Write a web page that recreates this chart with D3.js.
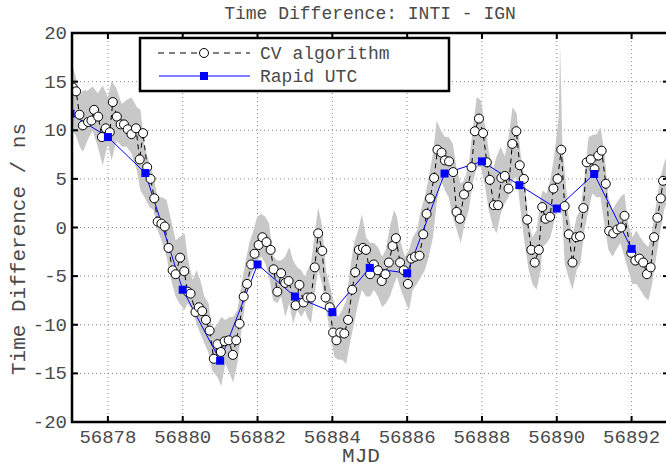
<!DOCTYPE html>
<html><head><meta charset="utf-8">
<script src="https://cdn.jsdelivr.net/npm/d3@7"></script>
<style>body{margin:0;background:#fff}svg{display:block}text{font-family:"Liberation Mono","DejaVu Sans Mono",monospace;fill:#4a4a4a}</style>
</head><body><svg id="c" width="666" height="468"></svg>
<script>
const cvMJD = [56877.06,56877.15,56877.24,56877.33,56877.47,56877.56,56877.63,56877.74,56877.84,56877.94,
56878.05,56878.13,56878.24,56878.34,56878.43,56878.53,56878.63,56878.75,56878.85,56878.94,
56879.05,56879.14,56879.24,56879.33,56879.43,56879.52,56879.62,56879.73,56879.81,56879.93,
56880.04,56880.13,56880.21,56880.34,56880.43,56880.52,56880.62,56880.72,56880.83,56880.93,
56881.02,56881.12,56881.23,56881.34,56881.43,56881.52,56881.63,56881.72,56881.83,56881.92,
56882.03,56882.13,56882.24,56882.35,56882.43,56882.53,56882.63,56882.74,56882.83,
56883.02,56883.12,56883.23,56883.33,56883.43,56883.53,56883.62,56883.73,56883.82,56883.93,
56884.02,56884.11,56884.21,56884.32,56884.42,56884.53,56884.61,56884.71,56884.82,56884.90,
56885.01,56885.11,56885.22,56885.32,56885.42,56885.51,56885.61,56885.70,56885.81,56885.91,
56886.02,56886.11,56886.21,56886.33,56886.43,56886.52,56886.61,56886.72,56886.81,56886.92,
56887.01,56887.12,56887.23,56887.32,56887.41,56887.52,56887.63,56887.72,56887.81,56887.92,
56888.03,56888.13,56888.21,56888.32,56888.43,56888.52,56888.61,56888.71,56888.81,56888.92,
56889.01,56889.12,56889.21,56889.32,56889.41,56889.52,56889.61,56889.70,56889.82,56889.91,
56890.02,56890.12,56890.21,56890.32,56890.42,56890.52,56890.62,56890.71,56890.80,56890.91,
56891.01,56891.11,56891.20,56891.31,56891.40,56891.51,56891.62,56891.72,56891.81,
56891.99,56892.10,56892.21,56892.31,56892.41,56892.51,56892.60,56892.69,56892.78,56892.84];
const cvValue = [14.4,14.0,11.6,10.5,10.85,11.0,12.1,11.4,9.3,10.2,
9.8,12.9,11.4,10.6,10.6,10.1,9.6,10.2,7.0,9.7,
6.2,5.0,3.0,0.6,0.4,0.1,-2.1,-4.4,-4.8,-3.1,
-4.5,-6.6,-6.8,-8.7,-8.2,-8.6,-9.5,-10.6,-13.5,-12.0,
-12.8,-11.7,-11.6,-13.1,-11.6,-9.9,-7.1,-5.8,-3.8,-2.7,
-1.8,-1.0,-1.5,-2.3,-4.3,-6.6,-4.7,-5.7,-5.5,
-8.0,-5.9,-7.7,-7.2,-7.2,-4.1,-0.6,-2.4,-7.2,-8.2,
-10.8,-11.6,-10.8,-10.9,-9.5,-6.4,-4.6,-2.3,-2.1,-2.3,
-4.8,-3.8,-4.4,-5.5,-4.8,-3.6,-1.9,-1.1,-3.6,-4.4,
-5.8,-3.2,-3.0,-2.9,-0.7,1.4,3.0,5.1,8.0,7.7,
6.9,6.8,5.7,1.6,0.9,3.4,4.2,6.2,9.9,11.2,
9.7,6.7,4.9,2.3,2.3,5.1,5.3,4.0,8.6,9.9,
6.4,5.0,0.8,-2.3,-3.6,-2.3,2.1,0.9,1.1,4.0,
5.0,8.0,2.2,-0.7,-3.6,-1.0,-0.9,2.0,6.7,7.0,
6.0,7.4,7.9,4.5,-0.35,-0.6,-0.2,0.0,1.2,
-2.6,-3.4,-3.2,-3.6,-4.8,-4.1,-1.0,1.0,3.0,4.8];

const bandMJD = [56877.03,56877.14,56877.25,56877.33,56877.46,56877.59,56877.73,56877.86,56878.00,56878.10,
56878.23,56878.37,56878.50,56878.63,56878.77,56878.87,56878.98,56879.11,56879.22,56879.33,
56879.46,56879.57,56879.67,56879.81,56879.91,56880.05,56880.13,56880.26,56880.37,56880.47,
56880.58,56880.69,56880.79,56880.93,56881.03,56881.14,56881.25,56881.35,56881.46,56881.57,
56881.67,56881.78,56881.89,56881.99,56882.10,56882.21,56882.31,56882.42,56882.53,56882.63,
56882.74,56882.85,56882.95,56883.06,56883.17,56883.27,56883.33,56883.43,56883.54,56883.62,
56883.73,56883.83,56883.94,56884.05,56884.15,56884.26,56884.37,56884.47,56884.58,56884.69,
56884.79,56884.90,56885.01,56885.11,56885.22,56885.33,56885.43,56885.54,56885.65,56885.73,
56885.83,56885.94,56886.05,56886.15,56886.26,56886.37,56886.47,56886.58,56886.69,56886.79,
56886.90,56887.01,56887.11,56887.22,56887.33,56887.43,56887.54,56887.65,56887.75,56887.86,
56887.97,56888.07,56888.18,56888.29,56888.39,56888.50,56888.61,56888.71,56888.82,56888.93,
56889.03,56889.14,56889.25,56889.35,56889.46,56889.57,56889.62,56889.73,56889.83,56889.94,
56890.05,56890.09,56890.15,56890.21,56890.31,56890.42,56890.53,56890.63,56890.74,56890.85,
56890.95,56891.06,56891.17,56891.27,56891.38,56891.49,56891.59,56891.70,56891.81,56891.91,
56892.02,56892.13,56892.23,56892.34,56892.45,56892.55,56892.66,56892.77,56892.87,56892.98];
const bandTop = [17.0,15.5,13.6,14.1,14.1,14.5,13.8,14.6,13.4,15.1,
14.3,12.7,13.1,13.4,12.4,12.1,8.3,6.6,5.2,3.1,
3.1,2.8,1.1,-1.3,-1.0,-0.6,-3.0,-5.4,-4.4,-5.4,
-7.1,-7.8,-10.6,-9.9,-9.2,-9.5,-9.2,-9.2,-8.5,-5.8,
-3.7,-1.6,-0.3,1.1,1.4,1.1,0.4,-3.0,-3.4,-3.4,
-3.0,-2.0,-3.4,-4.1,-4.4,-5.1,-4.4,-3.7,-0.3,2.1,
0.1,-4.4,-6.1,-7.8,-9.2,-8.5,-7.5,-4.4,-1.6,-0.3,
1.4,-1.0,-1.6,-1.6,-2.0,-3.0,-2.3,0.1,1.8,1.1,
-1.6,-3.0,-2.3,-1.0,-0.3,1.8,3.1,5.2,7.6,11.0,
10.0,9.3,9.3,8.6,5.9,4.5,4.9,6.6,10.0,13.4,
13.1,10.7,7.9,5.9,7.3,8.3,7.3,9.3,12.4,11.7,
7.6,4.9,0.4,-1.0,-0.3,3.1,3.8,3.5,4.9,7.6,
11.4,18.5,8.5,5.9,1.4,-1.0,1.1,1.8,5.2,9.3,
9.5,9.6,10.3,7.9,3.1,1.8,2.5,3.1,3.5,0.4,
-1.0,-0.3,-1.0,-1.6,-2.0,-0.3,2.5,5.2,6.6,8.0];
const bandBottom = [10.0,9.5,8.3,7.8,9.0,10.0,8.3,6.4,8.6,6.9,
9.0,8.3,8.3,7.6,5.9,3.8,3.1,2.1,1.8,-0.3,
-1.6,-3.0,-5.1,-7.1,-7.8,-8.5,-7.8,-8.5,-9.9,-10.9,
-11.9,-12.9,-14.7,-15.4,-16.3,-14.0,-15.0,-15.9,-14.0,-10.6,
-7.8,-5.4,-4.4,-3.4,-3.0,-3.7,-5.1,-7.5,-7.8,-7.1,
-9.2,-7.8,-9.9,-8.5,-9.2,-8.5,-9.2,-9.9,-6.4,-4.4,
-5.8,-8.5,-10.6,-13.3,-13.6,-13.6,-14.0,-11.9,-9.9,-7.8,
-6.4,-7.1,-7.1,-6.4,-7.1,-8.2,-7.8,-7.1,-5.8,-5.1,
-6.4,-7.5,-8.5,-6.4,-5.8,-5.1,-4.4,-3.0,-1.0,2.5,
4.9,3.8,3.1,1.1,-0.3,-1.6,0.4,1.8,4.5,6.2,
6.2,4.5,1.8,0.1,-0.6,1.4,2.5,3.1,4.9,5.2,
1.8,-1.6,-4.4,-5.8,-6.4,-4.4,-2.0,-1.6,-1.0,0.8,
2.5,2.0,1.1,-3.7,-5.1,-6.4,-4.4,-3.7,-0.3,1.8,
3.5,3.1,3.1,0.4,-2.3,-3.0,-2.3,-1.6,-3.0,-4.4,
-5.8,-5.8,-6.4,-7.1,-7.5,-5.8,-3.0,-0.3,1.8,3.0];

const rapidMJD = [56877,56878,56879,56880,56881,56882,56883,56884,56885,56886,56887,56888,56889,56890,56891,56892];
const rapidValue = [11.7,9.3,5.6,-6.4,-13.7,-3.8,-7.1,-8.7,-4.15,-4.7,5.55,6.8,4.35,1.95,5.5,-2.2];

const xTicks = [56878,56880,56882,56884,56886,56888,56890,56892];
const yTicks = [-20,-15,-10,-5,0,5,10,15,20];
const title = "Time Difference: INTI - IGN";
const xLabel = "MJD";
const yLabel = "Time Difference / ns";
const legendLabels = ["CV algorithm","Rapid UTC"];

const svg = d3.select("#c");
const L=72, R=669, T=33, B=422;
const x = d3.scaleLinear().domain([56877.04,56893]).range([L,R]);
const y = d3.scaleLinear().domain([-20,20]).range([B,T]);

svg.append("defs").append("clipPath").attr("id","clip").append("rect")
  .attr("x",L).attr("y",T).attr("width",R-L).attr("height",B-T);

const grid = svg.append("g");
grid.selectAll(".vg").data(xTicks).join("line")
  .attr("x1",d=>x(d)).attr("x2",d=>x(d)).attr("y1",T).attr("y2",B)
  .attr("stroke","#888").attr("stroke-width",1).attr("stroke-dasharray","1,3");
grid.selectAll(".hg").data(yTicks).join("line")
  .attr("x1",L).attr("x2",R).attr("y1",d=>y(d)).attr("y2",d=>y(d))
  .attr("stroke","#888").attr("stroke-width",1).attr("stroke-dasharray","1,3");

const plot = svg.append("g").attr("clip-path","url(#clip)");
const band = bandMJD.map((m,i)=>({m,t:bandTop[i],b:bandBottom[i]}));
plot.append("path").datum(band)
  .attr("d", d3.area().x(d=>x(d.m)).y0(d=>y(d.b)).y1(d=>y(d.t)))
  .attr("fill","#c8c8c8");

const cv = cvMJD.map((m,i)=>({m,v:cvValue[i]}));
plot.append("path").datum(cv)
  .attr("d", d3.line().x(d=>x(d.m)).y(d=>y(d.v)))
  .attr("fill","none").attr("stroke","#000").attr("stroke-width",1).attr("stroke-dasharray","5,4");

const rp = rapidMJD.map((m,i)=>({m,v:rapidValue[i]}));
plot.append("path").datum(rp)
  .attr("d", d3.line().x(d=>x(d.m)).y(d=>y(d.v)))
  .attr("fill","none").attr("stroke","#0000ff").attr("stroke-width",1);

plot.selectAll(".cvp").data(cv).join("circle")
  .attr("cx",d=>x(d.m)).attr("cy",d=>y(d.v)).attr("r",4.5)
  .attr("fill","#fff").attr("stroke","#000").attr("stroke-width",1);

plot.selectAll(".rpp").data(rp).join("rect")
  .attr("x",d=>x(d.m)-4).attr("y",d=>y(d.v)-4).attr("width",8).attr("height",8)
  .attr("fill","#0000ff");

const ax = svg.append("g");
ax.append("rect").attr("x",L).attr("y",T).attr("width",R-L).attr("height",B-T)
  .attr("fill","none").attr("stroke","#000").attr("stroke-width",2.5);
const tl = 6;
xTicks.forEach(t=>{
  ax.append("line").attr("x1",x(t)).attr("x2",x(t)).attr("y1",B).attr("y2",B-tl).attr("stroke","#000").attr("stroke-width",2);
  ax.append("line").attr("x1",x(t)).attr("x2",x(t)).attr("y1",T).attr("y2",T+tl).attr("stroke","#000").attr("stroke-width",2);
  ax.append("text").attr("x",x(t)).attr("y",B+21).attr("text-anchor","middle").attr("font-size",19).text(t);
});
yTicks.forEach(t=>{
  ax.append("line").attr("x1",L).attr("x2",L+tl).attr("y1",y(t)).attr("y2",y(t)).attr("stroke","#000").attr("stroke-width",2);
  ax.append("line").attr("x1",R).attr("x2",R-tl).attr("y1",y(t)).attr("y2",y(t)).attr("stroke","#000").attr("stroke-width",2);
  ax.append("text").attr("x",L-5).attr("y",y(t)+6).attr("text-anchor","end").attr("font-size",19).text(t);
});

svg.append("text").attr("x",370).attr("y",19).attr("text-anchor","middle").attr("font-size",18).text(title);
svg.append("text").attr("x",361).attr("y",462).attr("text-anchor","middle").attr("font-size",21).text(xLabel);
svg.append("text").attr("transform","translate(25,249) rotate(-90)").attr("text-anchor","middle").attr("font-size",21).text(yLabel);

const lg = svg.append("g");
lg.append("rect").attr("x",140).attr("y",38).attr("width",309).attr("height",53)
  .attr("fill","#fff").attr("stroke","#000").attr("stroke-width",2.5);
lg.append("line").attr("x1",158).attr("x2",250).attr("y1",53).attr("y2",53)
  .attr("stroke","#555").attr("stroke-width",1.5).attr("stroke-dasharray","6,5");
lg.append("circle").attr("cx",204).attr("cy",53).attr("r",4.5).attr("fill","#fff").attr("stroke","#000");
lg.append("line").attr("x1",159).attr("x2",250).attr("y1",76).attr("y2",76).attr("stroke","#0000ff").attr("stroke-width",1);
lg.append("rect").attr("x",200).attr("y",72).attr("width",8).attr("height",8).attr("fill","#0000ff");
lg.append("text").attr("x",260).attr("y",59).attr("font-size",18).text(legendLabels[0]);
lg.append("text").attr("x",260).attr("y",82).attr("font-size",18).text(legendLabels[1]);
</script></body></html>
